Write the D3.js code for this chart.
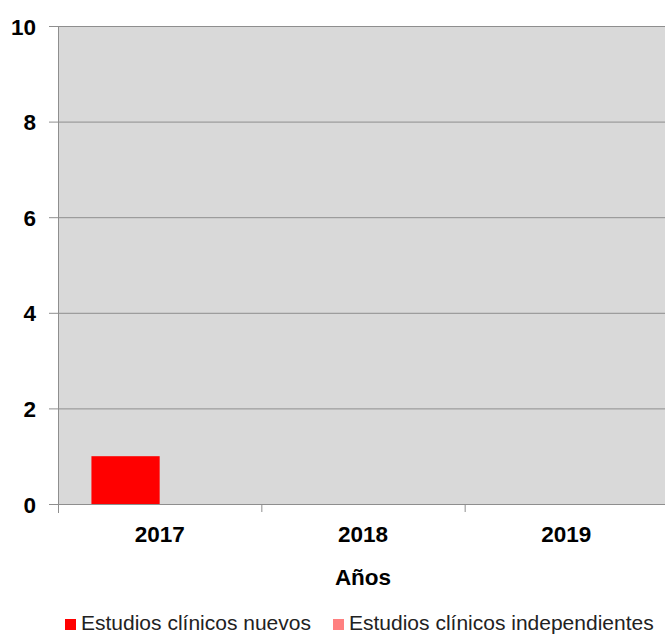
<!DOCTYPE html>
<html>
<head>
<meta charset="utf-8">
<script src="https://cdn.jsdelivr.net/npm/d3@7"></script>
<style>
  body { margin: 0; background: #fff; }
  text { font-family: "Liberation Sans", Arial, sans-serif; }
</style>
</head>
<body>
<div id="chart"></div>
<script>
// data
var years = ["2017", "2018", "2019"];
var series = ["Estudios clínicos nuevos", "Estudios clínicos independientes"];
var nuevos = [1, 0, 0];
var independientes = [0, 0, 0];
var y_ticks = [0, 2, 4, 6, 8, 10];

var colors = ["#ff0000", "#ff8080"];

var chart_width = 665;
var chart_height = 636;
var margin = {top: 26, left: 58, bottom: 132};
var plot_right = 668;

var svg = d3.select("#chart")
            .append("svg")
            .attr("width", chart_width)
            .attr("height", chart_height);

var x = d3.scaleBand()
          .domain(years)
          .range([margin.left, plot_right]);

var x_inner = d3.scaleBand()
          .domain(series)
          .range([0, x.bandwidth()])
          .paddingInner(0)
          .paddingOuter(0.49);

var y = d3.scaleLinear()
          .domain([0, 10])
          .range([chart_height - margin.bottom, margin.top]);

// plot background
svg.append("rect")
   .attr("x", margin.left)
   .attr("y", margin.top)
   .attr("width", plot_right - margin.left)
   .attr("height", y(0) - margin.top)
   .attr("fill", "#d9d9d9");

// gridlines
svg.append("g")
   .selectAll("line")
   .data(y_ticks)
   .enter()
   .append("line")
   .attr("x1", margin.left - 9)
   .attr("x2", plot_right)
   .attr("y1", (d) => y(d) + 0.5)
   .attr("y2", (d) => y(d) + 0.5)
   .attr("stroke", "#8e8e8e")
   .attr("stroke-width", 1);

// bars
var table = years.map((yr, i) => ({year: yr, values: [nuevos[i], independientes[i]]}));

var groups = svg.append("g")
   .selectAll("g")
   .data(table)
   .enter()
   .append("g")
   .attr("transform", (d) => "translate(" + x(d.year) + ",0)");

groups.selectAll("rect")
   .data((d) => d.values.map((v, j) => ({s: series[j], v: v, c: colors[j]})))
   .enter()
   .append("rect")
   .attr("x", (d) => x_inner(d.s))
   .attr("width", x_inner.bandwidth())
   .attr("y", (d) => y(d.v))
   .attr("height", (d) => y(0) - y(d.v))
   .attr("fill", (d) => d.c);

// axes lines
svg.append("line")
   .attr("x1", margin.left + 0.5).attr("x2", margin.left + 0.5)
   .attr("y1", margin.top).attr("y2", y(0) + 9)
   .attr("stroke", "#8e8e8e");

svg.append("line")
   .attr("x1", margin.left - 9).attr("x2", plot_right)
   .attr("y1", y(0) + 0.5).attr("y2", y(0) + 0.5)
   .attr("stroke", "#8e8e8e");

// category ticks
svg.append("g")
   .selectAll("line")
   .data(years.slice(1))
   .enter()
   .append("line")
   .attr("x1", (d) => x(d) + 0.5)
   .attr("x2", (d) => x(d) + 0.5)
   .attr("y1", y(0))
   .attr("y2", y(0) + 8)
   .attr("stroke", "#8e8e8e");

// y labels
svg.append("g")
   .selectAll("text")
   .data(y_ticks)
   .enter()
   .append("text")
   .attr("x", 36)
   .attr("y", (d) => y(d) + 8.5)
   .attr("text-anchor", "end")
   .attr("font-size", "22.5px")
   .attr("font-weight", "bold")
   .attr("fill", "#000")
   .text((d) => d);

// x labels
svg.append("g")
   .selectAll("text")
   .data(years)
   .enter()
   .append("text")
   .attr("x", (d) => x(d) + x.bandwidth() / 2)
   .attr("y", y(0) + 38)
   .attr("text-anchor", "middle")
   .attr("font-size", "22.5px")
   .attr("font-weight", "bold")
   .attr("fill", "#000")
   .text((d) => d);

// axis title
svg.append("text")
   .attr("x", x("2018") + x.bandwidth() / 2)
   .attr("y", y(0) + 81)
   .attr("text-anchor", "middle")
   .attr("font-size", "22.5px")
   .attr("font-weight", "bold")
   .attr("fill", "#000")
   .text("Años");

// legend
var legend_x = [65, 333];
var legend = svg.append("g")
   .selectAll("g")
   .data(series)
   .enter()
   .append("g")
   .attr("transform", (d, i) => "translate(" + legend_x[i] + ",619)");

legend.append("rect")
   .attr("width", 11)
   .attr("height", 11)
   .attr("fill", (d, i) => colors[i]);

legend.append("text")
   .attr("x", 16)
   .attr("y", 11)
   .attr("font-size", "21px")
   .attr("fill", "#222")
   .text((d) => d);
</script>
</body>
</html>
